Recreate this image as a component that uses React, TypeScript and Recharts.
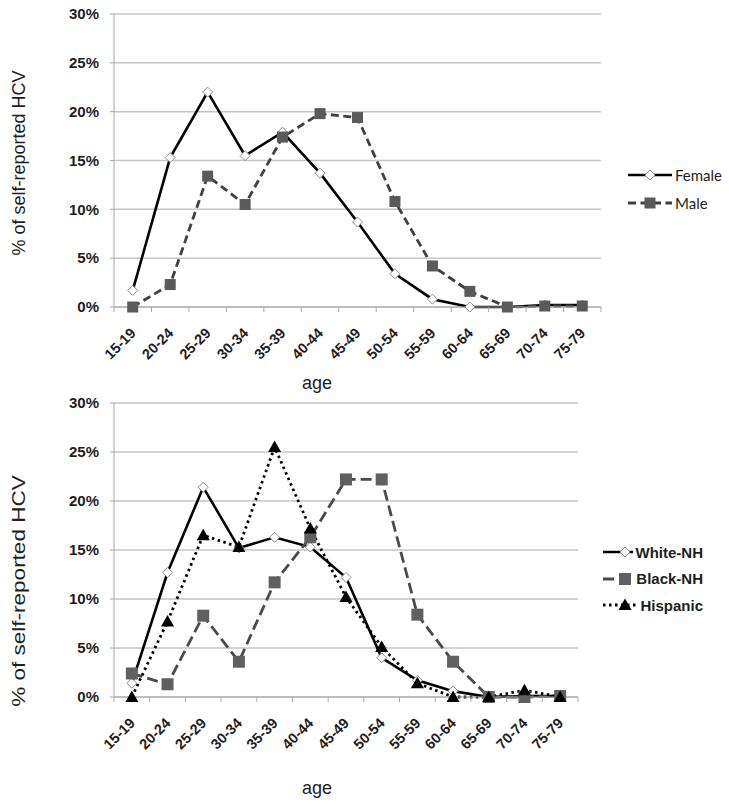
import React from 'react';
import { LineChart, Line, XAxis, YAxis, CartesianGrid, Legend } from 'recharts';

const categories = ['15-19', '20-24', '25-29', '30-34', '35-39', '40-44', '45-49', '50-54', '55-59', '60-64', '65-69', '70-74', '75-79'];
const female = [1.7, 15.3, 22.0, 15.5, 17.9, 13.7, 8.7, 3.4, 0.8, 0.0, 0.0, 0.2, 0.2];
const male = [0.0, 2.3, 13.4, 10.5, 17.4, 19.8, 19.4, 10.8, 4.2, 1.6, 0.0, 0.1, 0.1];
const whiteNH = [1.4, 12.7, 21.4, 15.2, 16.3, 15.3, 12.2, 4.0, 1.7, 0.6, 0.0, 0.1, 0.1];
const blackNH = [2.4, 1.3, 8.3, 3.6, 11.7, 16.3, 22.2, 22.2, 8.4, 3.6, 0.0, 0.0, 0.1];
const hispanic = [0.0, 7.7, 16.5, 15.3, 25.5, 17.2, 10.2, 5.1, 1.4, 0.0, 0.0, 0.7, 0.0];
const yTicks = [0, 5, 10, 15, 20, 25, 30];

const sexData = categories.map((age, i) => ({ age, Female: female[i], Male: male[i] }));
const raceData = categories.map((age, i) => ({ age, 'White-NH': whiteNH[i], 'Black-NH': blackNH[i], Hispanic: hispanic[i] }));

const ARIAL = '"Liberation Sans", Arial, sans-serif';
const GRID = '#c4c4c4';
const AXIS = '#a8a8a8';
const TEXT = '#1e1e1e';

type Marker = 'diamond' | 'square' | 'bigsquare' | 'triangle';

const drawMarker = (kind: Marker, cx: number, cy: number, key?: any) => {
  if (kind === 'diamond') {
    return <path key={key} d={`M${cx},${cy - 5}L${cx + 5},${cy}L${cx},${cy + 5}L${cx - 5},${cy}Z`} fill="#ffffff" stroke="#8a8a8a" strokeWidth={1} />;
  }
  if (kind === 'square') {
    return <rect key={key} x={cx - 5.5} y={cy - 5.5} width={11} height={11} fill="#5a5a5a" />;
  }
  if (kind === 'bigsquare') {
    return <rect key={key} x={cx - 6} y={cy - 6} width={12} height={12} fill="#606060" />;
  }
  return <path key={key} d={`M${cx},${cy - 6.5}L${cx + 6.5},${cy + 5}L${cx - 6.5},${cy + 5}Z`} fill="#000000" />;
};

const dotFn = (kind: Marker) => (p: any) => drawMarker(kind, p.cx, p.cy, `${kind}-${p.index}`);

interface SeriesStyle {
  key: string;
  stroke: string;
  width: number;
  dash?: string;
  marker: Marker;
}

const sexSeries: SeriesStyle[] = [
  { key: 'Female', stroke: '#000000', width: 2.6, marker: 'diamond' },
  { key: 'Male', stroke: '#404040', width: 2.8, dash: '8 4.5', marker: 'square' },
];
const raceSeries: SeriesStyle[] = [
  { key: 'White-NH', stroke: '#000000', width: 2.6, marker: 'diamond' },
  { key: 'Black-NH', stroke: '#4a4a4a', width: 2.8, dash: '11 5', marker: 'bigsquare' },
  { key: 'Hispanic', stroke: '#000000', width: 2.8, dash: '2.5 3.5', marker: 'triangle' },
];

const makeTick = (band: number, n: number) => (props: any) => {
  const { x, y, payload, index } = props;
  const half = band / 2;
  const tx = x + 4;
  const ty = y + 27;
  return (
    <g>
      <line x1={x - half} y1={y} x2={x - half} y2={y + 5} stroke={AXIS} strokeWidth={1} />
      {index === n - 1 ? <line x1={x + half} y1={y} x2={x + half} y2={y + 5} stroke={AXIS} strokeWidth={1} /> : null}
      <text x={tx} y={ty} transform={`rotate(-45 ${tx} ${ty})`} textAnchor="end" fontSize={14.5} fontWeight="bold" fill={TEXT} fontFamily={ARIAL}>
        {payload.value}
      </text>
    </g>
  );
};

const makeLegend = (series: SeriesStyle[], rowH: number, font: React.CSSProperties) => () => (
  <div>
    {series.map((s) => (
      <div key={s.key} style={{ display: 'flex', alignItems: 'center', height: rowH }}>
        <svg width={44} height={14} style={{ display: 'block' }}>
          <line x1={0} y1={7} x2={44} y2={7} stroke={s.stroke} strokeWidth={s.width} strokeDasharray={s.dash} />
          {drawMarker(s.marker, 22, 7)}
        </svg>
        <span style={{ marginLeft: 3, color: TEXT, whiteSpace: 'nowrap', ...font }}>{s.key}</span>
      </div>
    ))}
  </div>
);

const yTitle = (cx: number, cy: number, scale: number) => (
  <div
    style={{
      position: 'absolute',
      left: cx - 150,
      top: cy - 12,
      width: 300,
      height: 24,
      lineHeight: '24px',
      textAlign: 'center',
      transform: `rotate(-90deg) scaleX(${scale})`,
      fontFamily: ARIAL,
      fontSize: 18,
      color: TEXT,
      whiteSpace: 'nowrap',
    }}
  >
    % of self-reported HCV
  </div>
);

const xTitle = (cx: number, cy: number) => (
  <div
    style={{
      position: 'absolute',
      left: cx - 50,
      top: cy - 12,
      width: 100,
      height: 24,
      lineHeight: '24px',
      textAlign: 'center',
      fontFamily: ARIAL,
      fontSize: 18,
      color: TEXT,
    }}
  >
    age
  </div>
);

const renderChart = (
  data: any[],
  series: SeriesStyle[],
  height: number,
  margin: any,
  xHeight: number,
  band: number,
  legendStyle: React.CSSProperties,
  legendContent: any
) => (
  <LineChart width={729} height={height} data={data} margin={margin}>
    <CartesianGrid horizontal vertical={false} stroke={GRID} strokeWidth={1.5} />
    <XAxis
      dataKey="age"
      interval={0}
      height={xHeight}
      padding={{ left: band / 2, right: band / 2 }}
      tickLine={false}
      tickSize={0}
      tickMargin={0}
      axisLine={{ stroke: AXIS, strokeWidth: 1 }}
      tick={makeTick(band, categories.length)}
    />
    <YAxis
      type="number"
      domain={[0, 30]}
      ticks={yTicks}
      interval={0}
      width={114}
      tickFormatter={(v: number) => `${v}%`}
      axisLine={{ stroke: AXIS, strokeWidth: 1 }}
      tickLine={{ stroke: AXIS, strokeWidth: 1 }}
      tickSize={4}
      tickMargin={11}
      tick={{ fontSize: 15, fontWeight: 'bold', fill: TEXT, fontFamily: ARIAL }}
    />
    <Legend layout="vertical" align="right" verticalAlign="top" wrapperStyle={legendStyle} content={legendContent} />
    {series.map((s) => (
      <Line
        key={s.key}
        type="linear"
        dataKey={s.key}
        stroke={s.stroke}
        strokeWidth={s.width}
        strokeDasharray={s.dash}
        dot={dotFn(s.marker)}
        activeDot={false}
        isAnimationActive={false}
      />
    ))}
  </LineChart>
);

export default function App() {
  return (
    <div style={{ position: 'absolute', left: 0, top: 0, width: 729, height: 807, background: '#ffffff', overflow: 'hidden' }}>
      <div style={{ position: 'absolute', left: 0, top: 0, width: 729, height: 380 }}>
        {renderChart(
          sexData,
          sexSeries,
          380,
          { top: 14, right: 28, bottom: 0, left: 0 },
          73,
          487 / 13,
          { left: 628, top: 161, width: 100, right: 'auto' },
          makeLegend(sexSeries, 28, { fontFamily: 'Lato, "Open Sans", sans-serif', fontSize: 15 })
        )}
      </div>
      <div style={{ position: 'absolute', left: 0, top: 380, width: 729, height: 427 }}>
        {renderChart(
          raceData,
          raceSeries,
          427,
          { top: 23, right: 51, bottom: 0, left: 0 },
          110,
          464 / 13,
          { left: 603, top: 159, width: 100, right: 'auto' },
          makeLegend(raceSeries, 26.5, { fontFamily: ARIAL, fontSize: 15, fontWeight: 'bold' })
        )}
      </div>
      {yTitle(19, 163, 1.0)}
      {xTitle(317, 383)}
      {yTitle(19, 591, 1.25)}
      {xTitle(317, 788)}
    </div>
  );
}
